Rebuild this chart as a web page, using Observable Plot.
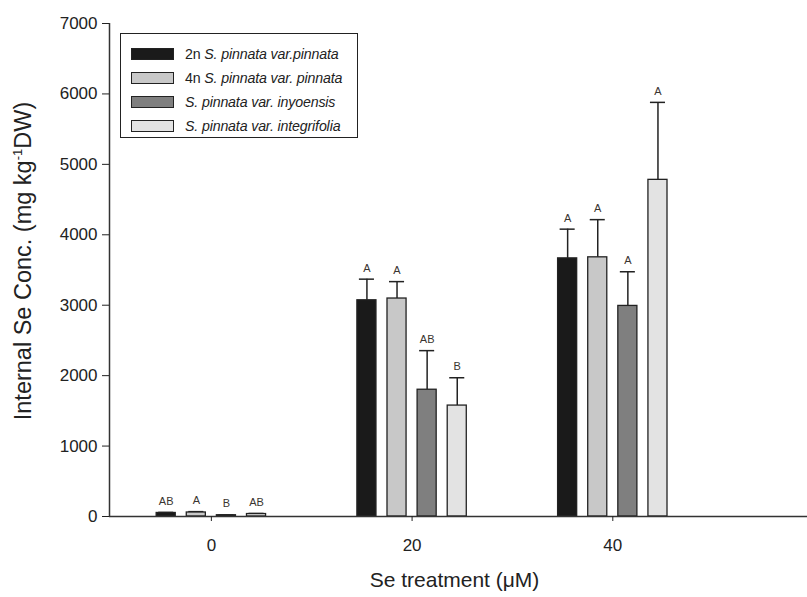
<!DOCTYPE html>
<html><head><meta charset="utf-8">
<script src="https://cdn.jsdelivr.net/npm/d3@7"></script>
<script src="https://cdn.jsdelivr.net/npm/@observablehq/plot@0.6"></script>
<style>
body{margin:0;background:#fff;font-family:Arial,"Liberation Sans",sans-serif;}
#wrap{position:relative;width:807px;height:597px;}
#legend{position:absolute;left:120px;top:33px;width:238px;height:105px;border:1.5px solid #222;box-sizing:border-box;padding:8px 0 0 10px;font-size:14.2px;letter-spacing:-0.15px;color:#222;background:#fff;white-space:nowrap;}
#legend .row{display:flex;align-items:center;height:24px;}
#legend .sw{width:43px;height:12px;border:1.3px solid #222;margin-right:11px;box-sizing:border-box;flex:none;}
#legend i{font-style:italic;}
</style></head>
<body><div id="wrap"><div id="chart"></div><div id="legend"></div></div>
<script>
const treatments = [0, 20, 40];
const seriesNames = ["2n S. pinnata var.pinnata", "4n S. pinnata var. pinnata", "S. pinnata var. inyoensis", "S. pinnata var. integrifolia"];
const seriesColors = ["#1a1a1a", "#c8c8c8", "#7f7f7f", "#e3e3e3"];
const mean2n = [50, 3070, 3665];
const mean4n = [57, 3095, 3680];
const meanInyo = [18, 1800, 2990];
const meanInteg = [35, 1575, 4780];
const err2n = [8, 300, 415];
const err4n = [12, 240, 535];
const errInyo = [4, 555, 485];
const errInteg = [8, 395, 1100];
const let2n = ["AB", "A", "A"];
const let4n = ["A", "A", "A"];
const letInyo = ["B", "AB", "A"];
const letInteg = ["AB", "B", "A"];
const yTicks = [0, 1000, 2000, 3000, 4000, 5000, 6000, 7000];
const xTicks = [0, 20, 40];
const xDomain = [-10.15, 59.4];
const yLabel = "Internal Se Conc. (mg kg-1DW)";
const xLabel = "Se treatment (μM)";

const means = [mean2n, mean4n, meanInyo, meanInteg];
const errs = [err2n, err4n, errInyo, errInteg];
const letters = [let2n, let4n, letInyo, letInteg];
const rows = treatments.flatMap((t, i) => seriesNames.map((s, j) => ({t, s, j, v: means[j][i], e: errs[j][i], l: letters[j][i]})));
const spacing = 3, half = 0.95, cap = 0.75;
const xc = d => d.t + (d.j - 1.5) * spacing;
const errTop = d => d.v + d.e;

const plot = Plot.plot({
  width: 807, height: 597,
  marginLeft: 109, marginRight: 0, marginTop: 23, marginBottom: 81,
  style: {fontFamily: "Arial, 'Liberation Sans', sans-serif", fontSize: "17px", color: "#222", background: "#fff"},
  x: {domain: xDomain},
  y: {domain: [0, 7000]},
  color: {domain: seriesNames, range: seriesColors},
  marks: [
    Plot.ruleX(rows, {x: xc, y1: "v", y2: errTop, stroke: "#222", strokeWidth: 1.5}),
    Plot.ruleY(rows, {y: errTop, x1: d => xc(d) - cap, x2: d => xc(d) + cap, stroke: "#222", strokeWidth: 1.5}),
    Plot.rectY(rows, {x1: d => xc(d) - half, x2: d => xc(d) + half, y1: 0, y2: "v", fill: "s", stroke: "#222", strokeWidth: 1.3}),
    Plot.text(rows, {x: xc, y: errTop, text: "l", dy: -11, fontSize: 11, fill: "#3a3530"}),
    Plot.ruleY([0], {stroke: "#333", strokeWidth: 1.5}),
    Plot.ruleX([xDomain[0]], {stroke: "#333", strokeWidth: 1.5}),
    Plot.axisY({ticks: yTicks, tickSize: 7, tickPadding: 5, tickFormat: d3.format("d"), label: null, fontSize: 17}),
    Plot.axisX({ticks: xTicks, tickSize: 5, tickPadding: 17, tickFormat: d3.format("d"), label: null, fontSize: 17}),
    Plot.text([yLabel], {frameAnchor: "left", rotate: -90, dx: -86, dy: -9, text: d => d, fontSize: 23.5, fill: "#222", textAnchor: "middle", lineAnchor: "middle"}),
    Plot.text([xLabel], {frameAnchor: "bottom", dy: 64, dx: -4, text: d => d, fontSize: 21, fill: "#222", lineAnchor: "middle"})
  ]
});
document.getElementById("chart").appendChild(plot);

plot.querySelectorAll("text").forEach(t => {
  if (t.textContent === yLabel) {
    t.textContent = "";
    const parts = [["Internal Se Conc. (mg kg", null], ["-1", "sup"], ["DW)", "after"]];
    for (const [txt, kind] of parts) {
      const ts = document.createElementNS("http://www.w3.org/2000/svg", "tspan");
      ts.textContent = txt;
      if (kind === "sup") { ts.setAttribute("font-size", "13"); ts.setAttribute("dy", "-9"); }
      if (kind === "after") { ts.setAttribute("dy", "9"); }
      t.appendChild(ts);
    }
  }
});

const legend = document.getElementById("legend");
const legendHTML = [
  "2n <i>S. pinnata var.pinnata</i>",
  "4n <i>S. pinnata var. pinnata</i>",
  "<i>S. pinnata var. inyoensis</i>",
  "<i>S. pinnata var. integrifolia</i>"
];
seriesNames.forEach((s, j) => {
  const r = document.createElement("div");
  r.className = "row";
  r.innerHTML = `<span class="sw" style="background:${seriesColors[j]}"></span><span>${legendHTML[j]}</span>`;
  legend.appendChild(r);
});
</script></body></html>
